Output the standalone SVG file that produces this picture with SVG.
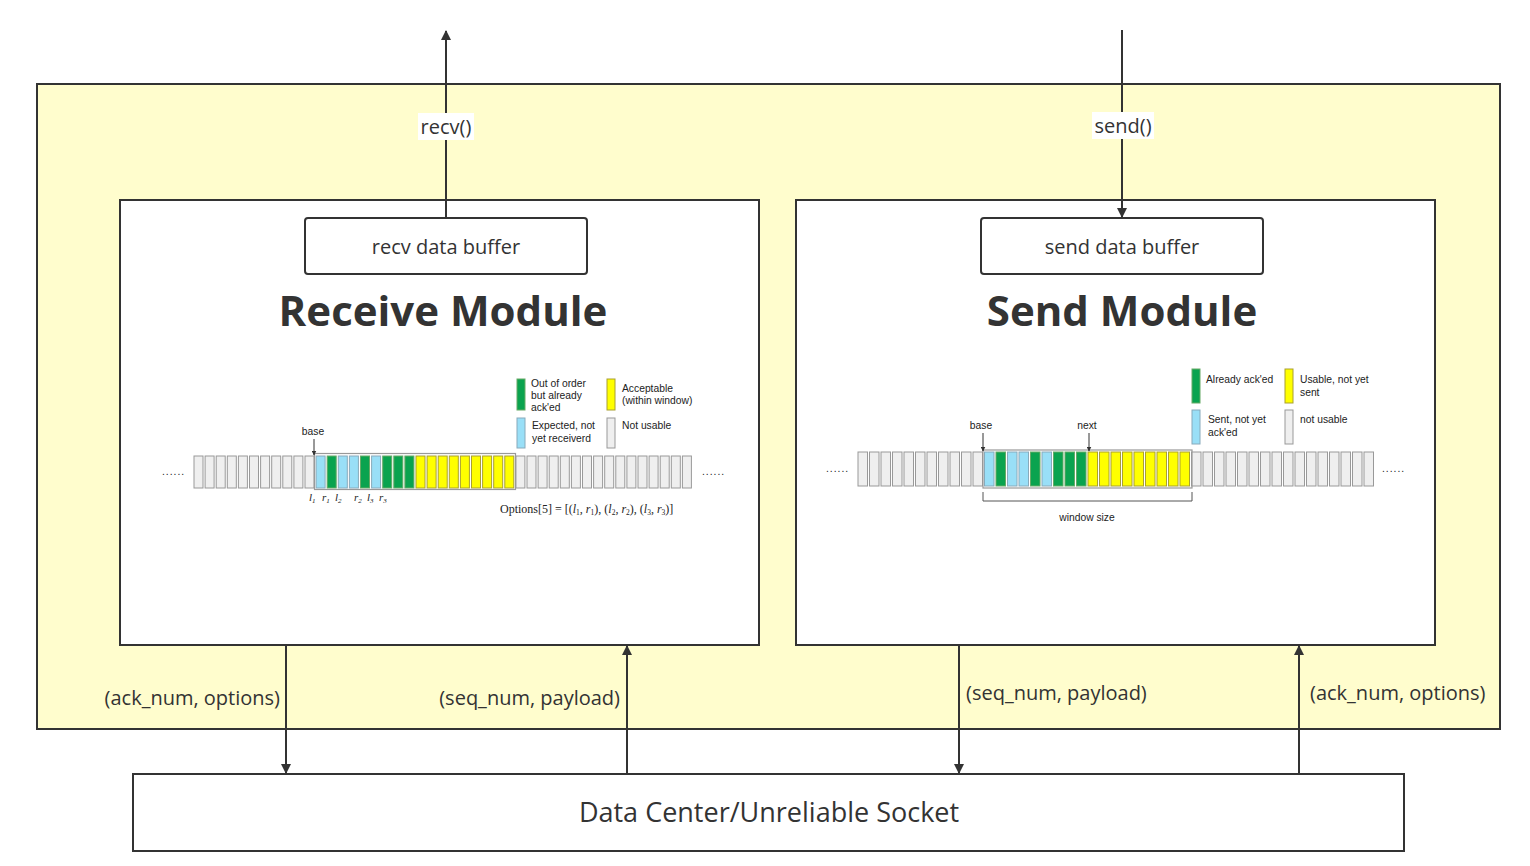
<svg xmlns="http://www.w3.org/2000/svg" width="1530" height="866" viewBox="0 0 1530 866">
<defs>
<marker id="ah" viewBox="0 0 10 10" refX="9" refY="5" markerWidth="10" markerHeight="14" markerUnits="userSpaceOnUse" orient="auto">
<path d="M0,0 L10,5 L0,10 Z" fill="#333"/>
</marker>
<marker id="sah" viewBox="0 0 10 10" refX="9" refY="5" markerWidth="5" markerHeight="5" markerUnits="userSpaceOnUse" orient="auto">
<path d="M0,0 L10,5 L0,10 Z" fill="#333"/>
</marker>
</defs>
<style>
.main{font-family:"Open Sans","Noto Sans","Liberation Sans",sans-serif;fill:#333}
.lbl{font-size:20px}
.title{font-size:42px;font-weight:bold;text-anchor:middle}
.sm{font-family:"Liberation Sans",Arial,sans-serif;font-size:10.3px;fill:#222}
.ser{font-family:"Liberation Serif","Times New Roman",serif;font-size:11px;fill:#222}
.opt{font-size:12px}
.it{font-style:italic}
.box{fill:#fff;stroke:#333;stroke-width:2}
.conn{stroke:#333;stroke-width:2;fill:none}
.cg{fill:#efefef;stroke:#999;stroke-width:1}
.cb{fill:#99dff7;stroke:#8ab;stroke-width:1}
.cn{fill:#0aa34f;stroke:#6a6;stroke-width:1}
.cy{fill:#ffff00;stroke:#a9a030;stroke-width:1}
.win{fill:none;stroke:#999;stroke-width:1.2}
</style>
<rect x="0" y="0" width="1530" height="866" fill="#fff"/>
<g id="system">
<rect x="37" y="84" width="1463" height="645" fill="#fffdcd" stroke="#333" stroke-width="2"/>
</g>
<g id="receive-module">
<rect class="box" x="120" y="200" width="639" height="445"/>
<text class="main title" x="443" y="326">Receive Module</text>
</g>
<g id="send-module">
<rect class="box" x="796" y="200" width="639" height="445"/>
<text class="main title" x="1122" y="326">Send Module</text>
</g>
<g id="recv-buffer">
<rect class="box" x="305" y="218" width="282" height="56" rx="3"/>
<text class="main lbl" x="446" y="254" text-anchor="middle">recv data buffer</text>
</g>
<g id="send-buffer">
<rect class="box" x="981" y="218" width="282" height="56" rx="3"/>
<text class="main lbl" x="1122" y="254" text-anchor="middle">send data buffer</text>
</g>
<g id="socket">
<rect class="box" x="133" y="774" width="1271" height="77"/>
<text class="main" font-size="27" x="769" y="822" text-anchor="middle">Data Center/Unreliable Socket</text>
</g>
<g id="connectors">
<line class="conn" x1="446" y1="218" x2="446" y2="31" marker-end="url(#ah)"/>
<rect x="418" y="113" width="56" height="27" fill="#fff"/>
<text class="main lbl" x="446" y="134" text-anchor="middle">recv()</text>
<line class="conn" x1="1122" y1="30" x2="1122" y2="217" marker-end="url(#ah)"/>
<rect x="1092" y="112" width="62" height="27" fill="#fff"/>
<text class="main lbl" x="1123" y="133" text-anchor="middle">send()</text>
<line class="conn" x1="286" y1="645" x2="286" y2="773" marker-end="url(#ah)"/>
<text class="main lbl" x="280" y="705" text-anchor="end">(ack_num, options)</text>
<line class="conn" x1="627" y1="774" x2="627" y2="646" marker-end="url(#ah)"/>
<text class="main lbl" x="620" y="705" text-anchor="end">(seq_num, payload)</text>
<line class="conn" x1="959" y1="645" x2="959" y2="773" marker-end="url(#ah)"/>
<text class="main lbl" x="966" y="700">(seq_num, payload)</text>
<line class="conn" x1="1299" y1="774" x2="1299" y2="646" marker-end="url(#ah)"/>
<text class="main lbl" x="1310" y="700">(ack_num, options)</text>
</g>
<g id="recv-window">
<text class="sm" x="162" y="475" letter-spacing="1">......</text>
<text class="sm" x="702" y="475" letter-spacing="1">......</text>
<g>
<rect class="cg" x="194" y="456" width="9" height="32"/>
<rect class="cg" x="205.1" y="456" width="9" height="32"/>
<rect class="cg" x="216.2" y="456" width="9" height="32"/>
<rect class="cg" x="227.3" y="456" width="9" height="32"/>
<rect class="cg" x="238.4" y="456" width="9" height="32"/>
<rect class="cg" x="249.5" y="456" width="9" height="32"/>
<rect class="cg" x="260.6" y="456" width="9" height="32"/>
<rect class="cg" x="271.7" y="456" width="9" height="32"/>
<rect class="cg" x="282.8" y="456" width="9" height="32"/>
<rect class="cg" x="293.9" y="456" width="9" height="32"/>
<rect class="cg" x="305" y="456" width="9" height="32"/>
<rect class="cb" x="316.1" y="456" width="9" height="32"/>
<rect class="cn" x="327.2" y="456" width="9" height="32"/>
<rect class="cb" x="338.3" y="456" width="9" height="32"/>
<rect class="cb" x="349.4" y="456" width="9" height="32"/>
<rect class="cn" x="360.5" y="456" width="9" height="32"/>
<rect class="cb" x="371.6" y="456" width="9" height="32"/>
<rect class="cn" x="382.7" y="456" width="9" height="32"/>
<rect class="cn" x="393.8" y="456" width="9" height="32"/>
<rect class="cn" x="404.9" y="456" width="9" height="32"/>
<rect class="cy" x="416" y="456" width="9" height="32"/>
<rect class="cy" x="427.1" y="456" width="9" height="32"/>
<rect class="cy" x="438.2" y="456" width="9" height="32"/>
<rect class="cy" x="449.3" y="456" width="9" height="32"/>
<rect class="cy" x="460.4" y="456" width="9" height="32"/>
<rect class="cy" x="471.5" y="456" width="9" height="32"/>
<rect class="cy" x="482.6" y="456" width="9" height="32"/>
<rect class="cy" x="493.7" y="456" width="9" height="32"/>
<rect class="cy" x="504.8" y="456" width="9" height="32"/>
<rect class="cg" x="515.9" y="456" width="9" height="32"/>
<rect class="cg" x="527" y="456" width="9" height="32"/>
<rect class="cg" x="538.1" y="456" width="9" height="32"/>
<rect class="cg" x="549.2" y="456" width="9" height="32"/>
<rect class="cg" x="560.3" y="456" width="9" height="32"/>
<rect class="cg" x="571.4" y="456" width="9" height="32"/>
<rect class="cg" x="582.5" y="456" width="9" height="32"/>
<rect class="cg" x="593.6" y="456" width="9" height="32"/>
<rect class="cg" x="604.7" y="456" width="9" height="32"/>
<rect class="cg" x="615.8" y="456" width="9" height="32"/>
<rect class="cg" x="626.9" y="456" width="9" height="32"/>
<rect class="cg" x="638" y="456" width="9" height="32"/>
<rect class="cg" x="649.1" y="456" width="9" height="32"/>
<rect class="cg" x="660.2" y="456" width="9" height="32"/>
<rect class="cg" x="671.3" y="456" width="9" height="32"/>
<rect class="cg" x="682.4" y="456" width="9" height="32"/>
</g>
<rect class="win" x="314.5" y="453.5" width="201" height="36"/>
<text class="sm" x="313" y="435" text-anchor="middle">base</text>
<line x1="314" y1="439" x2="314" y2="455" stroke="#333" stroke-width="1" marker-end="url(#sah)"/>
<g class="ser it">
<text x="309" y="501">l<tspan font-size="7" dy="2">1</tspan></text>
<text x="322" y="501">r<tspan font-size="7" dy="2">1</tspan></text>
<text x="335" y="501">l<tspan font-size="7" dy="2">2</tspan></text>
<text x="354" y="501">r<tspan font-size="7" dy="2">2</tspan></text>
<text x="367" y="501">l<tspan font-size="7" dy="2">3</tspan></text>
<text x="379" y="501">r<tspan font-size="7" dy="2">3</tspan></text>
</g>
<text class="ser opt" x="500" y="513">Options[5] = [(<tspan class="it">l</tspan><tspan font-size="7.5" dy="2">1</tspan><tspan dy="-2">, </tspan><tspan class="it">r</tspan><tspan font-size="7.5" dy="2">1</tspan><tspan dy="-2">), (</tspan><tspan class="it">l</tspan><tspan font-size="7.5" dy="2">2</tspan><tspan dy="-2">, </tspan><tspan class="it">r</tspan><tspan font-size="7.5" dy="2">2</tspan><tspan dy="-2">), (</tspan><tspan class="it">l</tspan><tspan font-size="7.5" dy="2">3</tspan><tspan dy="-2">, </tspan><tspan class="it">r</tspan><tspan font-size="7.5" dy="2">3</tspan><tspan dy="-2">)]</tspan></text>
<rect class="cn" x="517" y="379" width="8" height="31"/>
<text class="sm" x="531" y="387">Out of order</text>
<text class="sm" x="531" y="399">but already</text>
<text class="sm" x="531" y="411">ack'ed</text>
<rect class="cy" x="607" y="379" width="8" height="31"/>
<text class="sm" x="622" y="392">Acceptable</text>
<text class="sm" x="622" y="404">(within window)</text>
<rect class="cb" x="517" y="418" width="8" height="30"/>
<text class="sm" x="532" y="429">Expected, not</text>
<text class="sm" x="532" y="442">yet receiverd</text>
<rect class="cg" x="607" y="418" width="8" height="30"/>
<text class="sm" x="622" y="429">Not usable</text>
</g>
<g id="send-window">
<text class="sm" x="826" y="472" letter-spacing="1">......</text>
<text class="sm" x="1382" y="472" letter-spacing="1">......</text>
<g>
<rect class="cg" x="858" y="452" width="9.5" height="34"/>
<rect class="cg" x="869.5" y="452" width="9.5" height="34"/>
<rect class="cg" x="881" y="452" width="9.5" height="34"/>
<rect class="cg" x="892.5" y="452" width="9.5" height="34"/>
<rect class="cg" x="904" y="452" width="9.5" height="34"/>
<rect class="cg" x="915.5" y="452" width="9.5" height="34"/>
<rect class="cg" x="927" y="452" width="9.5" height="34"/>
<rect class="cg" x="938.5" y="452" width="9.5" height="34"/>
<rect class="cg" x="950" y="452" width="9.5" height="34"/>
<rect class="cg" x="961.5" y="452" width="9.5" height="34"/>
<rect class="cg" x="973" y="452" width="9.5" height="34"/>
<rect class="cb" x="984.5" y="452" width="9.5" height="34"/>
<rect class="cn" x="996" y="452" width="9.5" height="34"/>
<rect class="cb" x="1007.5" y="452" width="9.5" height="34"/>
<rect class="cb" x="1019" y="452" width="9.5" height="34"/>
<rect class="cn" x="1030.5" y="452" width="9.5" height="34"/>
<rect class="cb" x="1042" y="452" width="9.5" height="34"/>
<rect class="cn" x="1053.5" y="452" width="9.5" height="34"/>
<rect class="cn" x="1065" y="452" width="9.5" height="34"/>
<rect class="cn" x="1076.5" y="452" width="9.5" height="34"/>
<rect class="cy" x="1088" y="452" width="9.5" height="34"/>
<rect class="cy" x="1099.5" y="452" width="9.5" height="34"/>
<rect class="cy" x="1111" y="452" width="9.5" height="34"/>
<rect class="cy" x="1122.5" y="452" width="9.5" height="34"/>
<rect class="cy" x="1134" y="452" width="9.5" height="34"/>
<rect class="cy" x="1145.5" y="452" width="9.5" height="34"/>
<rect class="cy" x="1157" y="452" width="9.5" height="34"/>
<rect class="cy" x="1168.5" y="452" width="9.5" height="34"/>
<rect class="cy" x="1180" y="452" width="9.5" height="34"/>
<rect class="cg" x="1191.5" y="452" width="9.5" height="34"/>
<rect class="cg" x="1203" y="452" width="9.5" height="34"/>
<rect class="cg" x="1214.5" y="452" width="9.5" height="34"/>
<rect class="cg" x="1226" y="452" width="9.5" height="34"/>
<rect class="cg" x="1237.5" y="452" width="9.5" height="34"/>
<rect class="cg" x="1249" y="452" width="9.5" height="34"/>
<rect class="cg" x="1260.5" y="452" width="9.5" height="34"/>
<rect class="cg" x="1272" y="452" width="9.5" height="34"/>
<rect class="cg" x="1283.5" y="452" width="9.5" height="34"/>
<rect class="cg" x="1295" y="452" width="9.5" height="34"/>
<rect class="cg" x="1306.5" y="452" width="9.5" height="34"/>
<rect class="cg" x="1318" y="452" width="9.5" height="34"/>
<rect class="cg" x="1329.5" y="452" width="9.5" height="34"/>
<rect class="cg" x="1341" y="452" width="9.5" height="34"/>
<rect class="cg" x="1352.5" y="452" width="9.5" height="34"/>
<rect class="cg" x="1364" y="452" width="9.5" height="34"/>
</g>
<rect class="win" x="983" y="450" width="209" height="38"/>
<text class="sm" x="981" y="429" text-anchor="middle">base</text>
<line x1="983" y1="433" x2="983" y2="451" stroke="#333" stroke-width="1" marker-end="url(#sah)"/>
<text class="sm" x="1087" y="429" text-anchor="middle">next</text>
<line x1="1089" y1="433" x2="1089" y2="451" stroke="#333" stroke-width="1" marker-end="url(#sah)"/>
<path d="M983,492 V501 H1192 V492" fill="none" stroke="#555" stroke-width="1"/>
<text class="sm" x="1087" y="521" text-anchor="middle">window size</text>
<rect class="cn" x="1192" y="369" width="8" height="34"/>
<text class="sm" x="1206" y="383">Already ack'ed</text>
<rect class="cy" x="1285" y="369" width="8" height="34"/>
<text class="sm" x="1300" y="383">Usable, not yet</text>
<text class="sm" x="1300" y="396">sent</text>
<rect class="cb" x="1192" y="410" width="8" height="34"/>
<text class="sm" x="1208" y="423">Sent, not yet</text>
<text class="sm" x="1208" y="436">ack'ed</text>
<rect class="cg" x="1285" y="410" width="8" height="34"/>
<text class="sm" x="1300" y="423">not usable</text>
</g>
</svg>
